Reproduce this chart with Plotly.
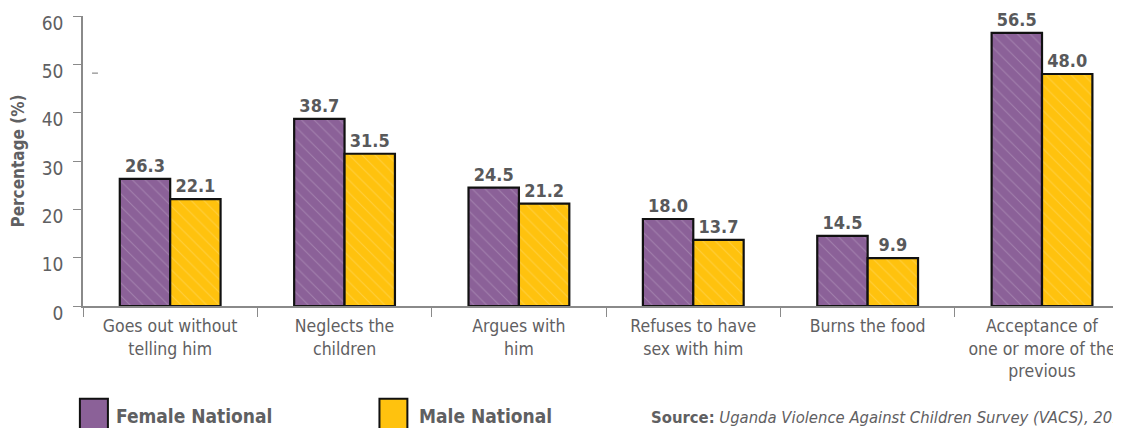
import plotly.graph_objects as go

categories = [
    "Goes out without<br>telling him",
    "Neglects the<br>children",
    "Argues with<br>him",
    "Refuses to have<br>sex with him",
    "Burns the food",
    "Acceptance of<br>one or more of the<br>previous",
]
female = [26.3, 38.7, 24.5, 18.0, 14.5, 56.5]
male = [22.1, 31.5, 21.2, 13.7, 9.9, 48.0]
series_names = ["Female National", "Male National"]

purple = "#8b6198"
yellow = "#ffc20e"
grey = "#5f6062"
font = "DejaVu Sans Condensed, Liberation Sans Narrow, Arial Narrow, sans-serif"

fig = go.Figure()
for name, vals, col in [(series_names[0], female, purple), (series_names[1], male, yellow)]:
    fig.add_trace(go.Bar(
        x=categories, y=vals, name=name,
        marker=dict(color=col, line=dict(color="#111111", width=2.2),
                    pattern=dict(shape="\\", fgcolor="white", fgopacity=0.2,
                                 size=9, solidity=0.12)),
        text=[f"{v:.1f}" for v in vals], textposition="outside",
        textfont=dict(family=font, size=18, color="#58595b", weight="bold"),
        cliponaxis=False, showlegend=False,
    ))

# page has an 8px body margin, so the figure is sized to sit inside the window
fig.update_layout(
    width=1113, height=420,
    margin=dict(l=73, r=0, t=8, b=122),
    paper_bgcolor="white", plot_bgcolor="white",
    barmode="group", bargap=0.422, bargroupgap=0,
    font=dict(family=font, color=grey),
    xaxis=dict(range=[-0.5, 5.453], showline=True, linecolor="#8a8a8a", linewidth=1.5,
               ticks="outside", tickson="boundaries", ticklen=9, tickcolor="#8a8a8a",
               tickfont=dict(size=17.5, color=grey), showgrid=False, ticklabelstandoff=3),
    yaxis=dict(range=[0, 60], dtick=10, showline=True, linecolor="#8a8a8a", linewidth=1.5,
               ticks="outside", ticklen=8, tickcolor="#8a8a8a", showgrid=False, zeroline=False,
               tickfont=dict(size=19, color=grey), ticklabelshift=7, ticklabelstandoff=6,
               title=dict(text="<b>Percentage (%)</b>", font=dict(size=17, color=grey), standoff=22)),
)

# stray dash from the original
fig.add_shape(type="line", xref="paper", yref="paper", x0=0.0087, x1=0.0144, y0=0.803, y1=0.803,
              line=dict(color="#8a8a8a", width=1.2))

# legend swatches and labels
for (x0, x1, tx), name, col in [((-0.003, 0.024, 0.030), series_names[0], purple),
                                 ((0.2856, 0.3125, 0.3221), series_names[1], yellow)]:
    fig.add_shape(type="rect", xref="paper", yref="paper", x0=x0, x1=x1, y0=-0.45, y1=-0.32,
                  fillcolor=col, line=dict(color="#111111", width=2))
    fig.add_annotation(x=tx, y=-0.38, xref="paper", yref="paper", text=f"<b>{name}</b>",
                       showarrow=False, xanchor="left", yanchor="middle",
                       font=dict(size=19, color=grey))

fig.add_annotation(x=0.545, y=-0.385, xref="paper", yref="paper",
                   text="<b>Source:</b> <i>Uganda Violence Against Children Survey (VACS), 2015</i>",
                   showarrow=False, xanchor="left", yanchor="middle",
                   font=dict(size=16.5, color=grey))

fig.write_html("out.html")
